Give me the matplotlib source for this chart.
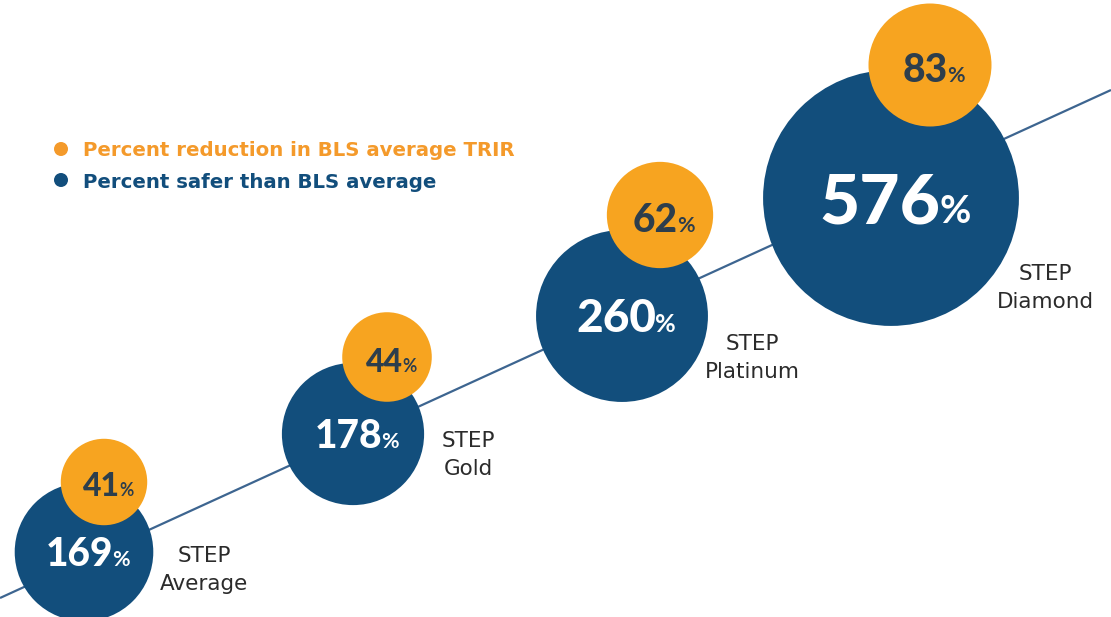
import matplotlib
matplotlib.use("Agg")
import matplotlib.pyplot as plt
from matplotlib.patches import Circle
import numpy as np

# data
tiers = ["Average", "Gold", "Platinum", "Diamond"]
safer_pct = [169, 178, 260, 576]       # percent safer than BLS average
reduction_pct = [41, 44, 62, 83]       # percent reduction in BLS average TRIR

legend_labels = ["Percent reduction in BLS average TRIR", "Percent safer than BLS average"]

# colours
BLUE = "#124e7c"
ORANGE = "#f7a420"
LEG_ORANGE = "#f49a2b"
DARK = "#2d3e4c"
LABEL = "#2b2b2b"
LINE = "#3d6590"

W, H = 1111, 617
fig = plt.figure(figsize=(W / 100, H / 100), dpi=100)
ax = fig.add_axes([0, 0, 1, 1])
ax.set_xlim(0, W)
ax.set_ylim(H, 0)
ax.axis("off")

# layout (pixel space)
blue_x = [84 + 269 * i for i in range(len(tiers))]
blue_y = [552 - 118 * i for i in range(len(tiers))]
orange_off = [(20, -70), (34, -77), (38, -101), (39, -133)]
k_blue, k_orange = 5.33, 6.75
blue_fs = [28, 28, 33, 50]
orange_fs = [23, 23, 28, 28]
label_pos = [(204, 562), (468, 447), (752, 350), (1045, 280)]

ax.plot([0, W], [598, 90], color=LINE, lw=1.6, zorder=1, solid_capstyle="butt")

num_texts = []
for i, tier in enumerate(tiers):
    bx, by = blue_x[i], blue_y[i]
    rb = k_blue * np.sqrt(safer_pct[i])
    ax.add_patch(Circle((bx, by), rb, color=BLUE, zorder=2, lw=0))
    ox, oy = bx + orange_off[i][0], by + orange_off[i][1]
    ro = k_orange * np.sqrt(reduction_pct[i])
    ax.add_patch(Circle((ox, oy), ro, color=ORANGE, zorder=3, lw=0))

    for val, cx, cy, fs, col, z in [(safer_pct[i], bx, by, blue_fs[i], "white", 4),
                                    (reduction_pct[i], ox, oy + 3, orange_fs[i], DARK, 5)]:
        t1 = ax.text(cx, cy + fs / 2, str(val), fontsize=fs, fontweight="black",
                     family="Lato", color=col, ha="left", va="baseline", zorder=z)
        t2 = ax.text(cx, cy + fs / 2, "%", fontsize=fs * 0.55, fontweight="bold",
                     family="Lato", color=col, ha="left", va="baseline", zorder=z)
        num_texts.append((t1, t2, cx, fs))

    lx, ly = label_pos[i]
    ax.text(lx, ly, "STEP", fontsize=15.5, family="DejaVu Sans", color=LABEL,
            ha="center", va="baseline")
    ax.text(lx, ly + 28, tier, fontsize=15.5, family="DejaVu Sans", color=LABEL,
            ha="center", va="baseline")

# centre number + percent sign inside each circle
fig.canvas.draw()
r = fig.canvas.get_renderer()
for t1, t2, cx, fs in num_texts:
    w1 = t1.get_window_extent(r).width
    w2 = t2.get_window_extent(r).width
    gap = 0.03 * fs
    x0 = cx + 4 - (w1 + w2 - gap) / 2
    t1.set_x(x0)
    t2.set_x(x0 + w1 - gap)

# legend
for j, (lab, col) in enumerate(zip(legend_labels, [LEG_ORANGE, BLUE])):
    yy = 149 + 31 * j
    ax.add_patch(Circle((61, yy), 7, color=col, lw=0))
    ax.text(83, yy + 7.5, lab, fontsize=14.2, fontweight="bold", family="DejaVu Sans",
            color=col, ha="left", va="baseline")

fig.savefig("out.png", dpi=100)
